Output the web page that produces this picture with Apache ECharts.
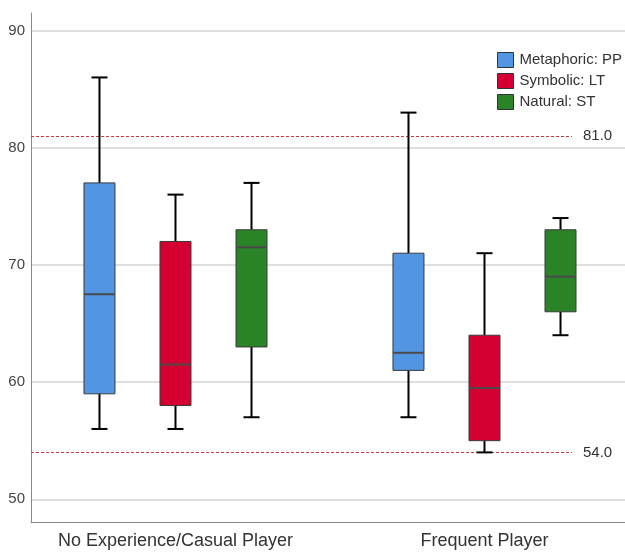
<!DOCTYPE html>
<html>
<head>
<meta charset="utf-8">
<script src="https://cdn.jsdelivr.net/npm/echarts@6/dist/echarts.min.js"></script>
<style>html,body{margin:0;padding:0;background:#fff}#chart{width:625px;height:554px}</style>
</head>
<body>
<div id="chart"></div>
<script>
// ---- data ----
const categories = ['No Experience/Casual Player', 'Frequent Player'];
const seriesNames = ['Metaphoric: PP', 'Symbolic: LT', 'Natural: ST'];
// [min, Q1, median, Q3, max] per category
const metaphoricPP = [[56, 59, 67.5, 77, 86], [57, 61, 62.5, 71, 83]];
const symbolicLT   = [[56, 58, 61.5, 72, 76], [54, 55, 59.5, 64, 71]];
const naturalST    = [[57, 63, 71.5, 73, 77], [64, 66, 69, 73, 74]];
const refLines = [81, 54];
const yTicks = [50, 60, 70, 80, 90];

// ---- layout / style ----
const colors = ['#5295e3', '#d50032', '#2a8427'];
const FONT = '"Liberation Sans", Arial, sans-serif';
const xMin = -0.4676, xMax = 1.4547;   // group centres at 0 and 1
const boxStep = 0.246;                 // offset between boxes in a group (axis units)
const boxW = 31, capW = 16;
const refLineEnd = 1.283;

function renderBox(slot) {
  return function (params, api) {
    const g = api.value(0);
    const x = api.coord([g + (slot - 1) * boxStep, 0])[0];
    const y = [1, 2, 3, 4, 5].map(k => api.coord([g, api.value(k)])[1]);
    const [yMin, yQ1, yMed, yQ3, yMax] = y;
    const color = api.visual('color');
    const whisker = { stroke: '#000', lineWidth: 2 };
    return {
      type: 'group',
      children: [
        { type: 'line', shape: { x1: x, y1: yMax, x2: x, y2: yQ3 }, style: whisker },
        { type: 'line', shape: { x1: x, y1: yQ1, x2: x, y2: yMin }, style: whisker },
        { type: 'line', shape: { x1: x - capW / 2, y1: yMax, x2: x + capW / 2, y2: yMax }, style: whisker },
        { type: 'line', shape: { x1: x - capW / 2, y1: yMin, x2: x + capW / 2, y2: yMin }, style: whisker },
        { type: 'rect', shape: { x: x - boxW / 2, y: yQ3, width: boxW, height: yQ1 - yQ3 },
          style: { fill: color, stroke: '#3a3a3a', lineWidth: 1 } },
        { type: 'line', shape: { x1: x - boxW / 2, y1: yMed, x2: x + boxW / 2, y2: yMed },
          style: { stroke: '#4a4a4a', lineWidth: 2 } }
      ]
    };
  };
}

function boxSeries(name, arr, i) {
  return {
    name: name,
    type: 'custom',
    z: 5,
    itemStyle: { color: colors[i] },
    encode: { x: 0, y: [1, 2, 3, 4, 5] },
    data: arr.map((v, gi) => [gi].concat(v)),
    renderItem: renderBox(i)
  };
}

const chart = echarts.init(document.getElementById('chart'), null, { renderer: 'canvas' });
chart.setOption({
  animation: false,
  backgroundColor: '#fff',
  textStyle: { fontFamily: FONT },
  grid: { left: 31, right: 0, top: 13, bottom: 31.3, containLabel: false },
  legend: {
    data: seriesNames,
    orient: 'vertical',
    left: 497, top: 52, padding: 0,
    icon: 'rect', itemWidth: 16, itemHeight: 15, itemGap: 5,
    itemStyle: { borderColor: '#333', borderWidth: 1 },
    textStyle: { fontFamily: FONT, fontSize: 15, color: '#333', padding: [0, 0, 0, 1] },
    selectedMode: false
  },
  xAxis: {
    type: 'value', min: xMin, max: xMax,
    axisLine: { show: true, onZero: false, lineStyle: { color: '#888', width: 1 } },
    axisTick: { show: false },
    splitLine: { show: false },
    axisLabel: {
      customValues: [0, 1],
      formatter: v => categories[Math.round(v)],
      fontFamily: FONT, fontSize: 18, color: '#333', margin: 9
    }
  },
  yAxis: {
    type: 'value', min: 48, max: 91.5,
    axisLine: { show: true, onZero: false, lineStyle: { color: '#888', width: 1 } },
    axisTick: { show: false, customValues: yTicks },
    splitLine: { show: true, lineStyle: { color: '#d4d4d4', width: 1.5 } },
    axisLabel: { customValues: yTicks, fontFamily: FONT, fontSize: 15, color: '#444', margin: 6 }
  },
  series: [
    {
      name: 'ref', type: 'line', data: [], z: 1, silent: true,
      markLine: {
        silent: true, symbol: ['none', 'none'], animation: false,
        lineStyle: { color: '#cc3a3a', width: 1, type: [3, 2] },
        label: { show: true, position: 'end', distance: 11, color: '#333', fontFamily: FONT, fontSize: 15 },
        data: refLines.map(v => [
          { coord: [xMin, v], name: v.toFixed(1), label: { formatter: v.toFixed(1) } },
          { coord: [refLineEnd, v] }
        ])
      }
    },
    boxSeries(seriesNames[0], metaphoricPP, 0),
    boxSeries(seriesNames[1], symbolicLT, 1),
    boxSeries(seriesNames[2], naturalST, 2)
  ]
});
</script>
</body>
</html>
